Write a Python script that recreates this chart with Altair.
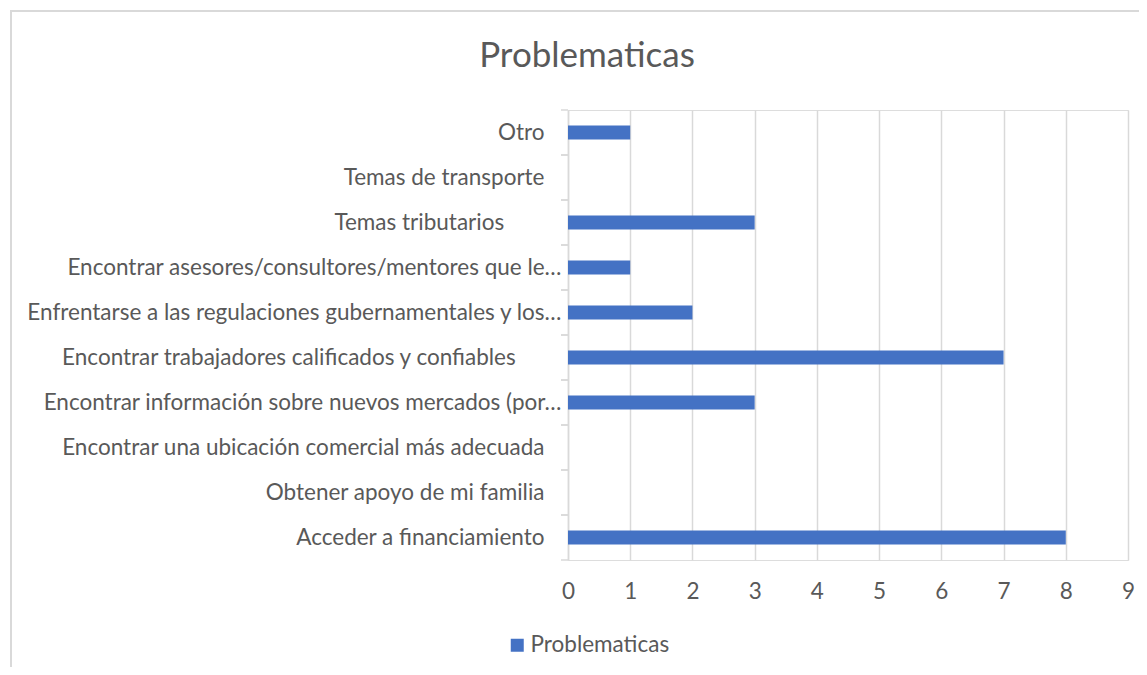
import altair as alt
import pandas as pd

categories = [
    "Otro",
    "Temas de transporte",
    "Temas tributarios" + "\u00a0" * 7 + "\u200b",
    "Encontrar asesores/consultores/mentores que le…",
    "Enfrentarse a las regulaciones gubernamentales y los…",
    "Encontrar trabajadores calificados y confiables" + "\u00a0" * 5 + "\u200b",
    "Encontrar información sobre nuevos mercados (por…",
    "Encontrar una ubicación comercial más adecuada",
    "Obtener apoyo de mi familia",
    "Acceder a financiamiento",
]
values = [1, 0, 3, 1, 2, 7, 3, 0, 0, 8]
series_name = "Problematicas"
x_ticks = [0, 1, 2, 3, 4, 5, 6, 7, 8, 9]

df = pd.DataFrame({"cat": categories, "val": values, "serie": series_name})

FONT = "Lato"
GRAY = "#595959"
LIGHT = "#d9d9d9"
BLUE = "#4472C4"
FS = 22.5

yscale = alt.Scale(domain=categories, paddingInner=0, paddingOuter=0)
y_axis = alt.Axis(
    title=None, domain=True, domainColor=LIGHT, domainWidth=1.5, ticks=False,
    labelFontSize=FS, labelColor=GRAY, labelFont=FONT,
    labelPadding={"condition": {"test": "indexof(datum.value, '…') >= 0", "value": 7}, "value": 24},
    labelLimit=0,
)

frame = alt.Chart(pd.DataFrame({"k": [0]})).mark_rect(
    fillOpacity=0, stroke=LIGHT, strokeWidth=2
).encode(
    x=alt.value(-557), x2=alt.value(700), y=alt.value(-99), y2=alt.value(700)
)

bars = alt.Chart(df).mark_bar(size=14).encode(
    x=alt.X(
        "val:Q",
        scale=alt.Scale(domain=[0, 9], nice=False),
        axis=alt.Axis(
            values=x_ticks, title=None, grid=True, gridColor=LIGHT, gridWidth=1.5,
            domain=False, ticks=False, labelFontSize=FS, labelColor=GRAY,
            labelFont=FONT, labelPadding=20, format="d", labelFlush=False,
        ),
    ),
    y=alt.Y("cat:N", scale=yscale, axis=y_axis),
    color=alt.Color(
        "serie:N",
        scale=alt.Scale(range=[BLUE]),
        legend=alt.Legend(
            orient="none", legendX=-62, legendY=524, title=None,
            symbolType="square", symbolSize=169, symbolStrokeWidth=0,
            labelFontSize=FS, labelColor=GRAY, labelFont=FONT, labelOffset=2,
            padding=0,
        ),
    ),
)

ticks_start = alt.Chart(df).mark_rule(color=LIGHT, strokeWidth=1.5).encode(
    y=alt.Y("cat:N", bandPosition=0, scale=yscale, axis=y_axis),
    x=alt.value(-7),
    x2=alt.value(0),
)
ticks_end = alt.Chart(df).mark_rule(color=LIGHT, strokeWidth=1.5).encode(
    y=alt.Y("cat:N", bandPosition=1, scale=yscale, axis=y_axis),
    x=alt.value(-7),
    x2=alt.value(0),
)

chart = alt.layer(frame, bars, ticks_start, ticks_end).properties(
    width=560,
    height=450,
    title=alt.TitleParams(
        "Problematicas", anchor="middle", dx=-261, fontSize=35, font=FONT,
        color=GRAY, fontWeight="normal", baseline="alphabetic", offset=-92,
    ),
    autosize=alt.AutoSizeParams(type="none"),
    padding={"left": 560, "top": 102, "right": 11, "bottom": 107},
).configure_view(stroke=None).configure(background="white")

chart.save("out.html", embed_options={"renderer": "svg", "actions": False})
